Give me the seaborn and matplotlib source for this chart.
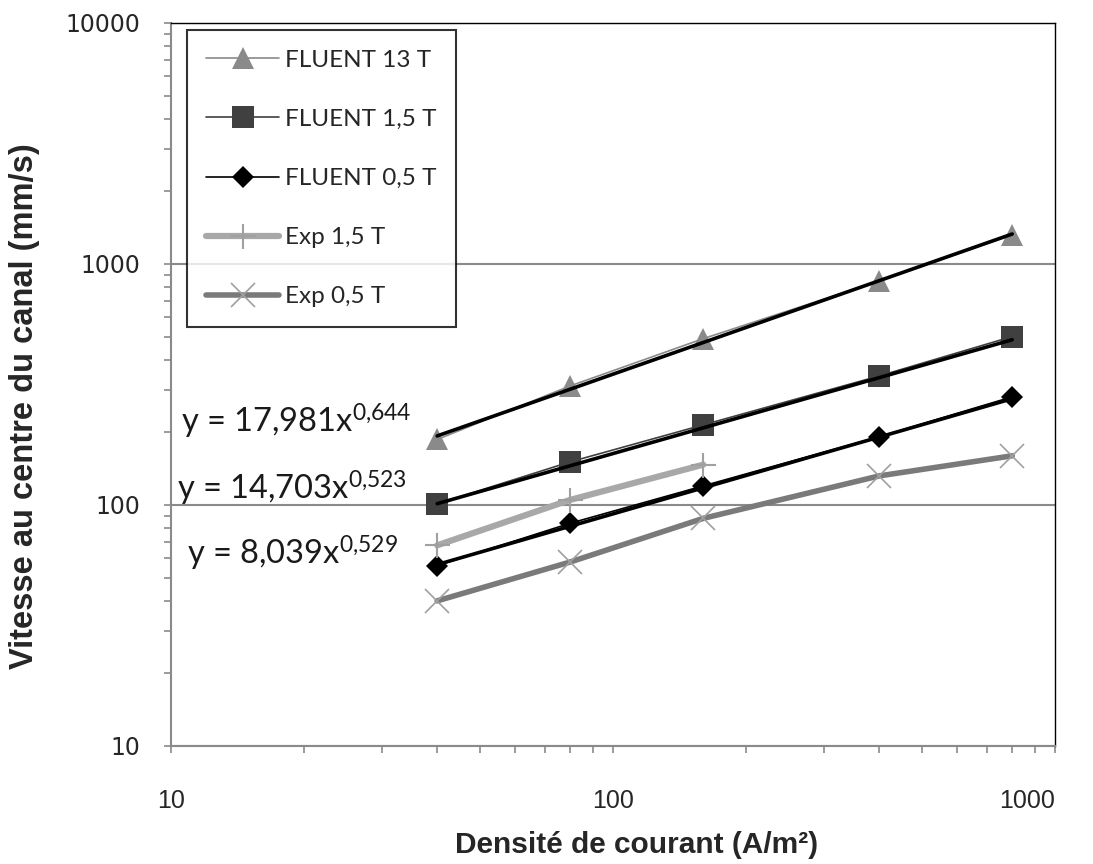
import numpy as np
import pandas as pd
import matplotlib
matplotlib.use('Agg')
import matplotlib.pyplot as plt
import seaborn as sns

# data
current = [40, 80, 160, 400, 800]
fluent_13 = [187, 312, 490, 850, 1320]
fluent_15 = [101, 151, 215, 343, 500]
fluent_05 = [56, 84, 120, 192, 281]
exp_current = [40, 80, 160]
exp_15 = [68, 105, 147]
exp_05 = [40, 58, 88, 132, 160]

# power-law trendlines (from the equations on the chart)
fit_labels = ['y = 17,981x$^{0{,}644}$', 'y = 14,703x$^{0{,}523}$', 'y = 8,039x$^{0{,}529}$']
fit_a = [17.981, 14.703, 8.039]
fit_b = [0.644, 0.523, 0.529]

sns.set_theme(style="white")
plt.rcParams['font.family'] = ['DejaVu Sans']
plt.rcParams['mathtext.fontset'] = 'custom'
plt.rcParams['mathtext.rm'] = 'Lato'
plt.rcParams['mathtext.it'] = 'Lato'
plt.rcParams['mathtext.default'] = 'regular'

narrow = ['Liberation Sans', 'DejaVu Sans']

fig = plt.figure(figsize=(10.93, 8.64), dpi=100)
ax = fig.add_axes([0.1565, 0.1366, 0.8088, 0.8368])

series = [
    ('FLUENT 13 T', current, fluent_13, dict(color='#8a8a8a', marker='^', markersize=16, lw=1.2)),
    ('FLUENT 1,5 T', current, fluent_15, dict(color='#404040', marker='s', markersize=16, lw=1.2)),
    ('FLUENT 0,5 T', current, fluent_05, dict(color='#000000', marker='D', markersize=11, lw=1.2)),
    ('Exp 1,5 T', exp_current, exp_15, dict(color='#a8a8a8', marker='+', markersize=18, lw=4.5,
                                            mew=1.5, mec='#a0a0a0')),
    ('Exp 0,5 T', current, exp_05, dict(color='#7a7a7a', marker='x', markersize=17, lw=4, mew=1.2,
                                        mec='#a0a0a0')),
]

handles = []
for name, xs, ys, kw in series:
    df = pd.DataFrame({'x': xs, 'y': ys})
    sns.lineplot(data=df, x='x', y='y', ax=ax, markeredgewidth=kw.pop('mew', 0), **kw)
    handles.append(ax.get_lines()[-1])

for a, b in zip(fit_a, fit_b):
    xs = np.array([current[0], current[-1]], dtype=float)
    fit = pd.DataFrame({'x': xs, 'y': a * xs ** b})
    sns.lineplot(data=fit, x='x', y='y', ax=ax, color='black', lw=2.6)

ax.set_xscale('log')
ax.set_yscale('log')
ax.set_xlim(10, 1000)
ax.set_ylim(10, 10000)

ax.yaxis.grid(True, which='major', color='#8a8a8a', lw=1.5)
ax.xaxis.grid(False)
ax.set_axisbelow(True)

for side in ['left', 'bottom']:
    ax.spines[side].set_color('#8a8a8a')
    ax.spines[side].set_linewidth(1.5)
for side in ['top', 'right']:
    ax.spines[side].set_color('black')
    ax.spines[side].set_linewidth(1)

ax.tick_params(axis='both', which='both', direction='out', length=5, width=1.2,
               color='#8a8a8a', left=True, bottom=True)
ax.tick_params(axis='y', which='major', labelsize=17, pad=17)
ax.tick_params(axis='x', which='major', pad=26)
ax.set_yticks([10, 100, 1000, 10000])
ax.set_yticklabels(['10', '100', '1000', '10000'])
ax.set_xticks([10, 100, 1000])
ax.set_xticklabels(['10', '100', '1000'], family=narrow, fontsize=18)
ax.get_xticklabels()[-1].set_horizontalalignment('right')
ax.yaxis.set_minor_formatter(matplotlib.ticker.NullFormatter())
ax.xaxis.set_minor_formatter(matplotlib.ticker.NullFormatter())

ax.set_xlabel('Densité de courant (A/m²)', family=narrow, fontweight='bold', fontsize=21.5)
ax.xaxis.set_label_coords(0.527, -0.118)
ax.set_ylabel('Vitesse au centre du canal (mm/s)', family=narrow, fontweight='bold', fontsize=23.5)
ax.yaxis.set_label_coords(-0.148, 0.47)

# equation labels
eq_pos = [(10.55, 199), (10.3, 105), (10.85, 56.4)]
for (ex, ey), lab in zip(eq_pos, fit_labels):
    ax.text(ex, ey, lab, fontsize=23.5, family='Lato', va='baseline', ha='left', color='#1a1a1a')

leg = ax.legend(handles=handles, labels=[s[0] for s in series], loc='upper left',
                bbox_to_anchor=(0.018, 0.99), frameon=True, fancybox=False,
                prop={'family': 'Lato', 'size': 17.5}, labelspacing=1.57,
                handlelength=3.0, handletextpad=0.25, borderpad=0.8, borderaxespad=0)
leg.get_frame().set_edgecolor('black')
leg.get_frame().set_linewidth(1.5)

fig.savefig('out.png', dpi=100, facecolor='white')
